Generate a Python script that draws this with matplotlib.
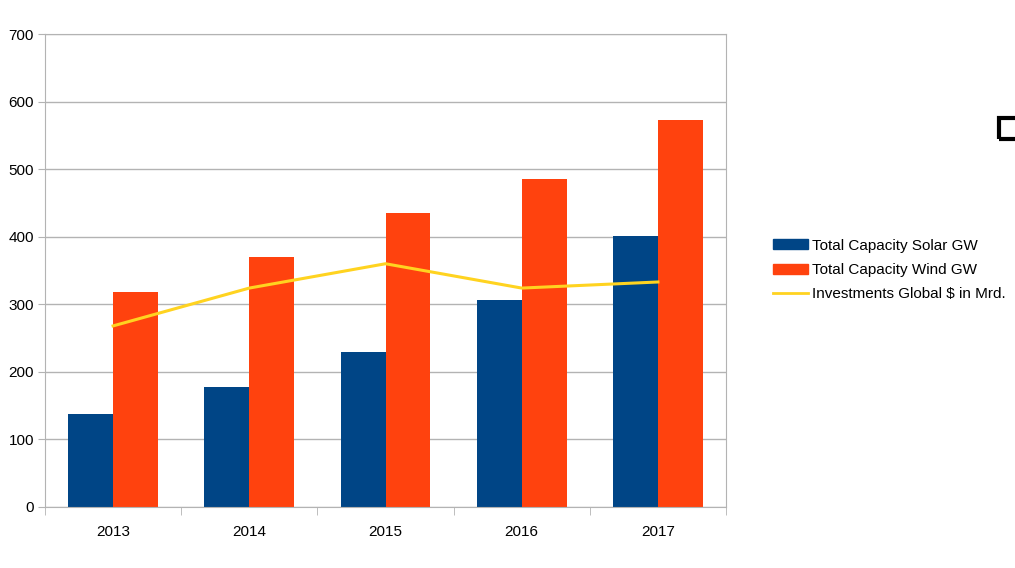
import matplotlib
matplotlib.use('Agg')
import matplotlib.pyplot as plt
from matplotlib.patches import Rectangle, Patch
from matplotlib.lines import Line2D
import numpy as np

plt.rcParams['font.family'] = ['Liberation Sans', 'DejaVu Sans']

years = ['2013', '2014', '2015', '2016', '2017']
solar = [138, 178, 229, 306, 401]
wind = [318, 370, 435, 485, 572]
invest = [268, 324, 360, 324, 333]

c_solar = '#004586'
c_wind = '#ff420e'
c_line = '#ffd320'

fig = plt.figure(figsize=(10.15, 5.68), dpi=100)
ax = fig.add_axes([45 / 1015, 61 / 568, 681 / 1015, 473 / 568])

x = np.arange(len(years))
w = 0.33
ax.bar(x - w / 2, solar, width=w, color=c_solar, zorder=2)
ax.bar(x + w / 2, wind, width=w, color=c_wind, zorder=2)
ax.plot(x, invest, color=c_line, lw=2.2, zorder=3)

ax.set_xlim(-0.5, len(years) - 0.5)
ax.set_ylim(0, 700)
ax.set_yticks(range(0, 701, 100))
ax.set_xticks(x)
ax.set_xticklabels(years)
ax.set_xticks(np.arange(-0.5, len(years), 1), minor=True)
ax.tick_params(axis='x', which='major', length=0, pad=13, labelsize=11)
ax.tick_params(axis='x', which='minor', length=6, color='#b3b3b3')
ax.tick_params(axis='y', length=5, color='#b3b3b3', labelsize=11, pad=3)
ax.grid(axis='y', color='#b3b3b3', lw=1, zorder=0)
for side in ['left', 'right', 'top', 'bottom']:
    ax.spines[side].set_color('#b3b3b3')

handles = [Patch(color=c_solar), Patch(color=c_wind), Line2D([], [], color=c_line, lw=2)]
labels = ['Total Capacity Solar GW', 'Total Capacity Wind GW', 'Investments Global $ in Mrd.']
fig.legend(handles, labels, loc='center left', bbox_to_anchor=(765 / 1015, 1 - 270 / 568),
           frameon=False, fontsize=11, handlelength=2.3, handleheight=0.65,
           handletextpad=0.3, labelspacing=0.68, borderpad=0)

fig.patches.append(Rectangle((999 / 1015, 1 - 139 / 568), 22 / 1015, 21 / 568,
                             transform=fig.transFigure, fill=False,
                             edgecolor='black', lw=3))

fig.savefig('out.png', dpi=100)
